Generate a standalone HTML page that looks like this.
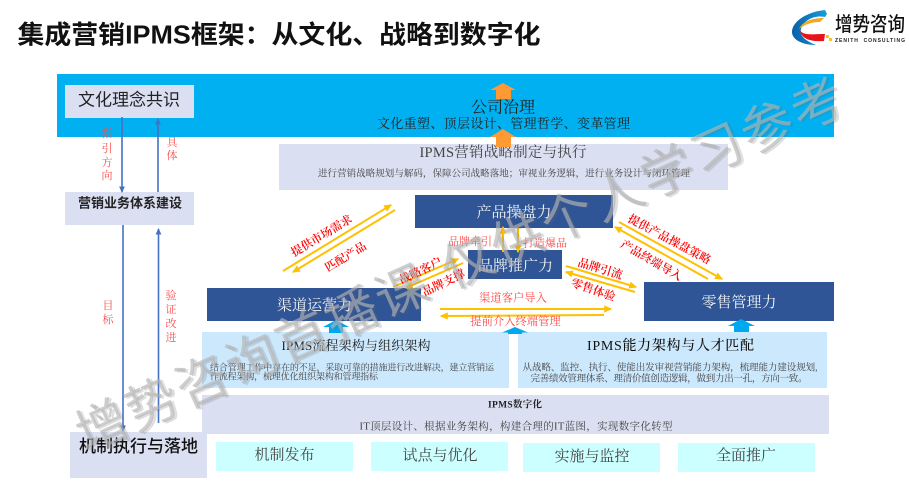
<!DOCTYPE html>
<html lang="zh">
<head>
<meta charset="utf-8">
<style>
html,body{margin:0;padding:0;background:#fff;width:909px;height:488px;overflow:hidden}
svg{display:block}
text{font-family:"Liberation Serif","Noto Serif CJK SC",serif;text-anchor:middle;dominant-baseline:central;white-space:pre}
.s{font-family:"Liberation Sans","Noto Sans CJK SC",sans-serif}
.w{fill:#f2f2f2}
.d{fill:#222}
.g{fill:#444}
.r{fill:#ff4b4b}
.rb{fill:#ff0000;font-weight:600;font-size:11.5px}
.y{stroke:#ffc000;stroke-width:2;fill:none;marker-end:url(#ya)}
.b{stroke:#4472c4;stroke-width:1.6;fill:none;marker-end:url(#ba)}
</style>
</head>
<body>
<svg width="909" height="488" viewBox="0 0 909 488" xmlns="http://www.w3.org/2000/svg">
<defs>
<marker id="ya" markerWidth="4" markerHeight="3.6" refX="3.4" refY="1.8" orient="auto" markerUnits="strokeWidth"><path d="M0 0L4 1.8L0 3.6Z" fill="#ffc000"/></marker>
<marker id="ba" markerWidth="4" markerHeight="3.6" refX="3.4" refY="1.8" orient="auto" markerUnits="strokeWidth"><path d="M0 0L4 1.8L0 3.6Z" fill="#4472c4"/></marker>
<linearGradient id="sw" x1="0" y1="0" x2="1" y2="0"><stop offset="0" stop-color="#0a5fa8"/><stop offset="1" stop-color="#12a0dc"/></linearGradient>
</defs>

<text class="s" x="279" y="35.5" font-size="25.5" font-weight="700" fill="#111" textLength="523" lengthAdjust="spacingAndGlyphs">集成营销IPMS框架：从文化、战略到数字化</text>

<!-- logo -->
<path d="M825 10C806 12 792 22 792 32C792 40 803 45 816 45C806 41 799 36 801 29C804 20 814 15 825 17L827 14Z" fill="url(#sw)"/>
<path d="M799 29C803 21 812 18 824 18L820 22C811 22 804 25 799 29Z" fill="#f5a623"/>
<path d="M800 30C803 36 813 34 825 34L824 41C811 42 801 39 800 30Z" fill="#e8141c"/>
<rect x="826" y="35" width="3" height="3" fill="#f5c518"/>
<rect x="829" y="38" width="3" height="3" fill="#f5c518"/>
<text class="s" x="835" y="25" font-size="20" font-weight="500" fill="#111" textLength="70" style="text-anchor:start" lengthAdjust="spacingAndGlyphs">增势咨询</text>
<text class="s" x="835" y="41" font-size="5" font-weight="700" fill="#222" textLength="70" style="text-anchor:start">ZENITH  CONSULTING</text>

<!-- main bands -->
<rect x="57" y="74" width="777" height="63" fill="#00b0f0"/>
<rect x="65" y="85" width="129" height="33" fill="#dae0f2"/>
<rect x="279" y="144" width="449" height="46" fill="#dae0f2"/>
<rect x="65" y="192" width="129" height="33" fill="#dae0f2"/>

<text class="s" x="129" y="100" font-size="17" fill="#222" textLength="102">文化理念共识</text>
<text x="503" y="108" font-size="16" class="d">公司治理</text>
<text x="503.5" y="123.500" font-size="13" class="d" textLength="253">文化重塑、顶层设计、管理哲学、变革管理</text>
<text x="503" y="153" font-size="14.5" class="g" textLength="167">IPMS营销战略制定与执行</text>
<text x="504" y="174.500" font-size="9.5" class="g" textLength="372">进行营销战略规划与解码，保障公司战略落地；审视业务逻辑，进行业务设计与闭环管理</text>
<text class="s" x="130" y="203" font-size="13" font-weight="700" fill="#222">营销业务体系建设</text>

<!-- blue connectors -->
<path class="b" d="M122 117V192"/>
<path class="b" d="M158 192V119"/>
<path class="b" d="M123 225V431"/>
<path class="b" d="M158.500 423V229"/>
<g class="r" font-size="11">
<text x="107" y="134">指</text><text x="107" y="149">引</text><text x="107" y="163">方</text><text x="107" y="176">向</text>
<text x="172" y="143">具</text><text x="172" y="156">体</text>
<text x="108" y="306">目</text><text x="108" y="320">标</text>
<text x="171" y="296">验</text><text x="171" y="310">证</text><text x="171" y="324">改</text><text x="171" y="338">进</text>
</g>

<!-- capability boxes -->
<rect x="415" y="195" width="198" height="33" fill="#2f5597"/>
<rect x="468" y="250" width="94" height="29" fill="#2f5597"/>
<rect x="207" y="288" width="214" height="33" fill="#2f5597"/>
<rect x="644" y="282" width="190" height="39" fill="#2f5597"/>
<text class="w" x="514" y="213" font-size="15">产品操盘力</text>
<text class="w" x="515.500" y="266.500" font-size="15">品牌推广力</text>
<text class="w" x="314.500" y="306" font-size="15">渠道运营力</text>
<text class="w" x="739" y="303" font-size="15">零售管理力</text>

<!-- yellow connectors -->
<path class="y" d="M283 271L391 205"/>
<path class="y" d="M395 210L293 272"/>
<path class="y" d="M393 287L458 259"/>
<path class="y" d="M463 263L406 288"/>
<path class="y" d="M440 309H611"/>
<path class="y" d="M604 315L441 316"/>
<path class="y" d="M503 252V227"/>
<path class="y" d="M518 228V252"/>
<path class="y" d="M619 222L722 279"/>
<path class="y" d="M708 279L615 227"/>
<path class="y" d="M566 266L636 287"/>
<path class="y" d="M635 292L566 272"/>

<!-- connector labels -->
<text class="rb" transform="translate(322 236.500) rotate(-31)">提供市场需求</text>
<text class="rb" transform="translate(346 257.500) rotate(-31)">匹配产品</text>
<text class="rb" transform="translate(421 271.500) rotate(-26)">战略客户</text>
<text class="rb" transform="translate(444 283.500) rotate(-26)">品牌支撑</text>
<text class="r" x="470" y="242" font-size="11">品牌牵引</text>
<text class="r" x="545" y="243.500" font-size="11">打造爆品</text>
<text class="rb" transform="translate(669 240) rotate(28)">提供产品操盘策略</text>
<text class="rb" transform="translate(651 261) rotate(30)">产品终端导入</text>
<text class="rb" transform="translate(600 269.500) rotate(17)">品牌引流</text>
<text class="rb" transform="translate(593 290.500) rotate(19)">零售体验</text>
<text class="r" x="513" y="298.500" font-size="11.300">渠道客户导入</text>
<text class="r" x="515.500" y="322" font-size="11.300">提前介入终端管理</text>

<!-- process and capability -->
<rect x="202" y="332" width="307" height="56" fill="#cce8fd"/>
<rect x="518" y="332" width="309" height="56" fill="#cce8fd"/>
<rect x="202" y="395" width="627" height="39" fill="#dae0f2"/>
<rect x="70" y="432" width="137" height="46" fill="#dae0f2"/>
<rect x="216" y="442" width="137" height="29" fill="#ccffff"/>
<rect x="371" y="442" width="137" height="29" fill="#ccffff"/>
<rect x="523" y="443" width="137" height="29" fill="#ccffff"/>
<rect x="678" y="443" width="137" height="29" fill="#ccffff"/>

<text x="356" y="345.500" font-size="13" class="d" textLength="149">IPMS流程架构与组织架构</text>
<text x="352" y="367.500" font-size="9" class="g" textLength="284">结合管理工作中存在的不足，采取可靠的措施进行改进解决，建立营销运</text>
<text x="210" y="376.500" font-size="9" class="g" textLength="168" style="text-anchor:start">作流程架构，梳理优化组织架构和管理指标</text>
<text x="670.500" y="346.500" font-size="14" fill="#111" font-weight="500" textLength="167">IPMS能力架构与人才匹配</text>
<text x="670" y="368.500" font-size="9.500" class="g" textLength="295">从战略、监控、执行、使能出发审视营销能力架构，梳理能力建设规划,</text>
<text x="669" y="379.500" font-size="9.500" class="g" textLength="277">完善绩效管理体系、理清价值创造逻辑，做到力出一孔，方向一致。</text>
<text x="515" y="405.500" font-size="9.500" font-weight="700" fill="#222" textLength="54">IPMS数字化</text>
<text x="516" y="427" font-size="10.500" class="g" textLength="313">IT顶层设计、根据业务架构，构建合理的IT蓝图，实现数字化转型</text>
<text class="s" x="138.500" y="446.500" font-size="17" font-weight="500" fill="#111" textLength="119">机制执行与落地</text>
<text x="284.500" y="455.500" font-size="15" class="g">机制发布</text>
<text x="440" y="456" font-size="15" class="g">试点与优化</text>
<text x="592" y="457" font-size="15" class="g">实施与监控</text>
<text x="746" y="456" font-size="15" class="g">全面推广</text>

<!-- block arrows -->
<path d="M503 83L516 90H511V99H496V90H490Z" fill="#ff9933"/>
<path d="M503 129L516 137H511V147H496V137H490Z" fill="#ff9933"/>
<path d="M336 320L349 327H343V333H329V327H323Z" fill="#00a8f0"/>
<path d="M515 327L528 332.500H522V334H508V332.500H502Z" fill="#00a8f0"/>
<path d="M741 319L755 326H749V332H734V326H728Z" fill="#00a8f0"/>

<!-- watermark -->
<g transform="translate(86 454) rotate(-24.250)">
<text class="s" x="2" y="2" style="text-anchor:start;dominant-baseline:auto" font-size="52" fill="#666" opacity=".2" textLength="836">增势咨询首播课 仅供个人学习参考</text>
<text class="s" x="0" y="0" style="text-anchor:start;dominant-baseline:auto" font-size="52" fill="#b4b4b4" opacity=".65" textLength="836">增势咨询首播课 仅供个人学习参考</text>
</g>
</svg>
</body>
</html>
